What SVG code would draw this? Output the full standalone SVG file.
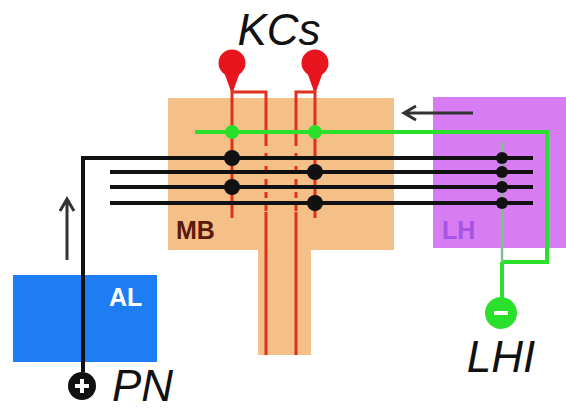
<svg xmlns="http://www.w3.org/2000/svg" width="566" height="410" viewBox="0 0 566 410">
<defs>
<style>
.lbl{font-family:"Liberation Sans",Arial,sans-serif;font-weight:bold;font-size:25px}
.name{font-family:"Liberation Sans",Arial,sans-serif;font-style:italic;font-size:44px;fill:#111}
.kc{stroke:#E0301E;stroke-width:3;fill:none}
.pn{stroke:#111;stroke-width:4;fill:none}
.gr{stroke:#2BE02B;stroke-width:4;fill:none}
.arr{stroke:#333;stroke-width:3;fill:none}
.dot{fill:#111}
.gdot{fill:#2BE02B}
.soma{fill:#E8141E}
</style>
</defs>
<rect width="566" height="410" fill="#fff"/>
<g id="MB">
<path d="M168,98 H394 V250 H311 V355 H258 V250 H168 Z" fill="#F5BF88"/>
<text class="lbl" x="176" y="239" fill="#5A1A0C">MB</text>
</g>
<g id="LH">
<rect x="433" y="97" width="133" height="151" fill="#D77CF2"/>
<text class="lbl" x="442" y="239" font-size="27" fill="#A455E6">LH</text>
</g>
<g id="AL">
<rect x="13" y="275" width="144" height="87" fill="#1E7DF2"/>
<text class="lbl" x="109" y="306" fill="#fff">AL</text>
</g>
<g id="connectors">
<!-- KC neurites -->
<path class="kc" d="M232,88 V218 M232,92 H266 V140 M296,140 V92 H315 M315,88 V218"/>
<path class="kc" d="M266,140 V212 M296,140 V212" stroke-dasharray="6,7"/>
<path class="kc" d="M266,212 V355 M296,212 V355"/>
<!-- LHI neurites -->
<path class="gr" d="M195,132 H547 V262 H502"/>
<path d="M502,142 V262" stroke="#7DC38A" stroke-width="2.5" fill="none"/>
<path class="gr" d="M502,262 V302" stroke-width="3"/>
<!-- PN axons -->
<path class="pn" d="M83,372 V158 H533"/>
<path class="pn" d="M110,172 H533 M110,187 H533 M110,203 H533"/>
<!-- direction arrows -->
<path class="arr" d="M67,260 V199 M60,211 L67,199 L74,211"/>
<path class="arr" d="M473,113 H404 M416,106 L404,113 L416,120"/>
<!-- synapses -->
<circle class="dot" cx="232" cy="158" r="8"/>
<circle class="dot" cx="232" cy="187" r="8"/>
<circle class="dot" cx="315" cy="172" r="8"/>
<circle class="dot" cx="315" cy="203" r="8"/>
<circle class="dot" cx="502" cy="158" r="6"/>
<circle class="dot" cx="502" cy="172" r="6"/>
<circle class="dot" cx="502" cy="187" r="6"/>
<circle class="dot" cx="502" cy="203" r="6"/>
<circle class="gdot" cx="232" cy="132" r="7"/>
<circle class="gdot" cx="315" cy="132" r="7"/>
</g>
<g id="KCs">
<circle class="soma" cx="232" cy="63" r="13.5"/>
<path class="soma" d="M224,72 L240,72 L233.5,90 L230.5,90 Z"/>
<circle class="soma" cx="315" cy="63" r="13.5"/>
<path class="soma" d="M307,72 L323,72 L316.5,90 L313.5,90 Z"/>
<text class="name" x="279" y="45" text-anchor="middle">KCs</text>
</g>
<g id="PN">
<circle cx="82" cy="386" r="14" fill="#111"/>
<path d="M75,386 H89 M82,379 V393" stroke="#fff" stroke-width="4"/>
<text class="name" x="112" y="401" font-size="41">PN</text>
</g>
<g id="LHI">
<circle cx="501" cy="313" r="16" fill="#2BE02B"/>
<path d="M494,313 H508" stroke="#fff" stroke-width="4"/>
<text class="name" x="501" y="372" text-anchor="middle">LHI</text>
</g>
</svg>
